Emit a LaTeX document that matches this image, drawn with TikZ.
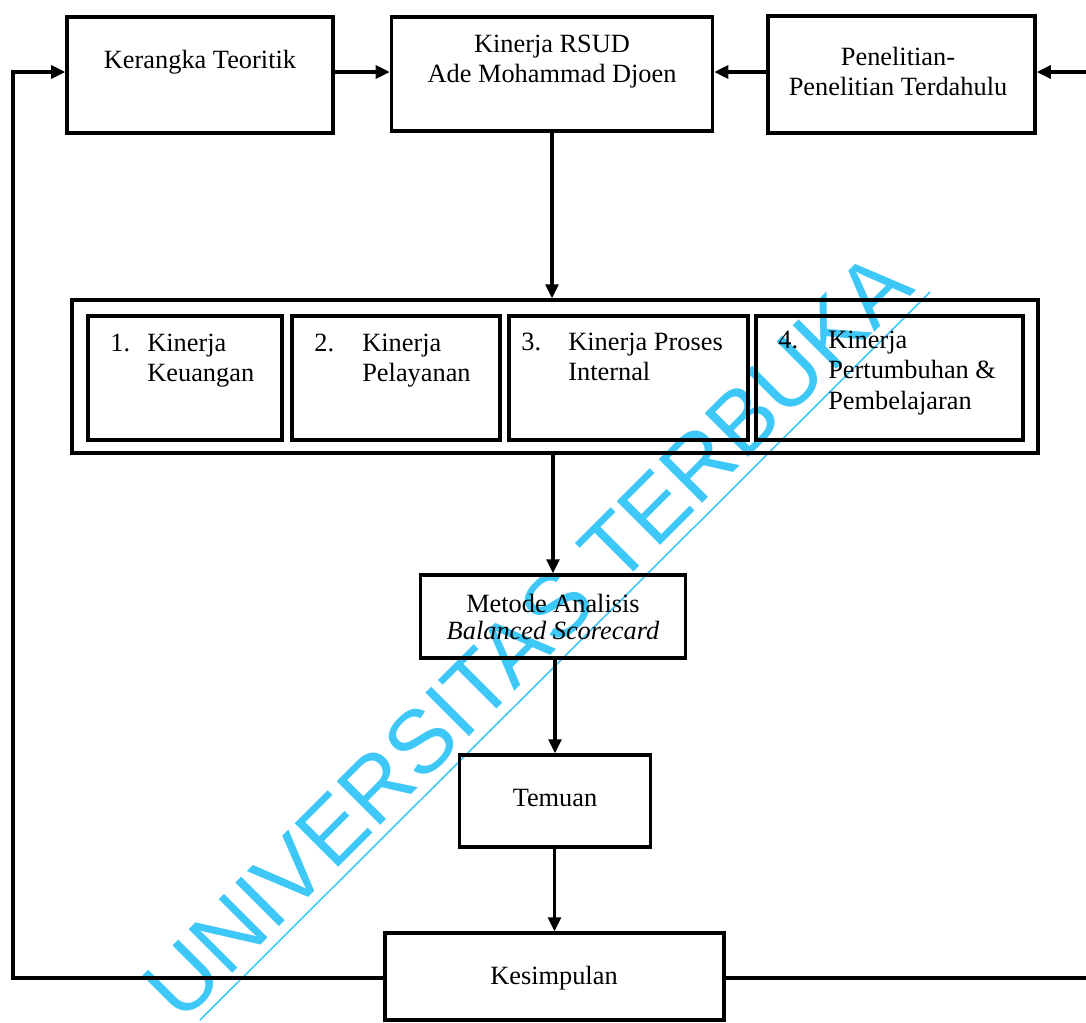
\documentclass[tikz,border=0pt]{standalone}
\usepackage{fontspec}
\setmainfont{Liberation Serif}
\newfontfamily\wmfont{Liberation Sans}
\usetikzlibrary{arrows.meta}
\definecolor{wmcyan}{RGB}{62,200,248}
\tikzset{
  box/.style={draw, line width=2pt, inner sep=0pt},
  sz/.style 2 args={minimum width=#1*0.02cm, minimum height=#2*0.02cm},
  lbl/.style={inner sep=0pt, anchor=base},
  arr/.style={line width=1.8pt, -{Triangle[length=0.28cm, width=0.26cm]}},
  link/.style={line width=1.8pt}
}

\begin{document}
\begin{tikzpicture}[x=0.02cm, y=-0.02cm, font=\fontsize{15}{17.5}\selectfont]
    \useasboundingbox (0,0) rectangle (1086,1022);

    % Top row
    \node[box, sz={266}{116}] (kt) at (200,75) {};
    \node[box, sz={321}{114}] (kr) at (552,74) {};
    \node[box, sz={267}{117}] (pt) at (901.5,74.5) {};
    \node[lbl] (ktText) at (200,68) {Kerangka Teoritik};
    \node[lbl] (krText) at (552,52) {\begin{tabular}[t]{@{}c@{}}Kinerja RSUD\\Ade Mohammad Djoen\end{tabular}};
    \node[lbl] (ptText) at (898,65) {\begin{tabular}[t]{@{}c@{}}Penelitian-\\Penelitian Terdahulu\end{tabular}};

    % Four performance perspectives
    \node[box, sz={966}{153}] (outer) at (555,376.5) {};
    \node[box, sz={194}{124}] (b1) at (185,378) {};
    \node[box, sz={208}{124}] (b2) at (396,378) {};
    \node[box, sz={239}{124}] (b3) at (628.5,378) {};
    \node[box, sz={267}{124}] (b4) at (889.5,378) {};
    \node[lbl, anchor=base west] (b1Text) at (110,351) {\begin{tabular}[t]{@{}p{0.74cm}@{}l@{}}1. & Kinerja\\ & Keuangan\end{tabular}};
    \node[lbl, anchor=base west] (b2Text) at (314,351) {\begin{tabular}[t]{@{}p{0.96cm}@{}l@{}}2. & Kinerja\\ & Pelayanan\end{tabular}};
    \node[lbl, anchor=base west] (b3Text) at (521,350) {\begin{tabular}[t]{@{}p{0.94cm}@{}l@{}}3. & Kinerja Proses\\ & Internal\end{tabular}};
    \node[lbl, anchor=base west] (b4Text) at (778,348) {\begin{tabular}[t]{@{}p{1cm}@{}l@{}}4. & Kinerja\\ & Pertumbuhan \&\\ & Pembelajaran\end{tabular}};

    % Analysis chain
    \node[box, sz={265}{83}] (mt) at (553,616.5) {};
    \node[box, sz={191}{92}] (tm) at (555,801) {};
    \node[box, sz={339}{87}] (ks) at (554.5,976.5) {};
    \node[lbl] (mtText) at (553,612) {\begin{tabular}[t]{@{}c@{}}Metode Analisis\\[-2pt]\textit{Balanced Scorecard}\end{tabular}};
    \node[lbl] (tmText) at (555,806) {Temuan};
    \node[lbl] (ksText) at (554,984) {Kesimpulan};

    % Feedback corners
    \coordinate (fbT) at (13,72);
    \coordinate (fbL) at (13,978);
    \coordinate (fbR) at (1086,978);
    \coordinate (inR) at (1086,72);

    % Connectors
    \draw[arr] (ks.west |- fbL) -- (fbL) -- (fbT) -- (fbT -| kt.west);
    \draw[arr] (kt.east |- fbT) -- (fbT -| kr.west);
    \draw[arr] (pt.west |- fbT) -- (fbT -| kr.east);
    \draw[arr] (inR) -- (inR -| pt.east);
    \draw[link] (ks.east |- fbR) -- (fbR);
    \draw[arr] (kr.south) -- (kr.south |- outer.north);
    \draw[arr] (outer.south -| mt.north) -- (mt.north);
    \draw[arr] (mt.south -| tm.north) -- (tm.north);
    \draw[arr] (tm.south -| ks.north) -- (ks.north);

    % Watermark
    \begin{scope}[blend mode=multiply]
      \node[lbl, rotate=45, text=wmcyan, font=\wmfont\fontsize{51}{51}\selectfont] (wm) at (549,657) {UNIVERSITAS TERBUKA};
      \coordinate (wmA) at (200,1020);
      \coordinate (wmB) at (930,292);
      \draw[wmcyan, line width=0.9pt] (wmA) -- (wmB);
    \end{scope}
\end{tikzpicture}
\end{document}
